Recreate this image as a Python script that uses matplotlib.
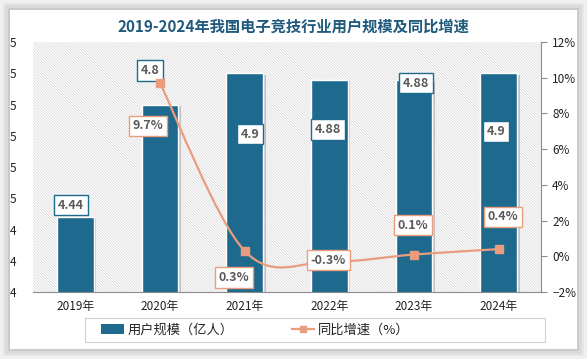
import numpy as np
import matplotlib
matplotlib.use('Agg')
import matplotlib.pyplot as plt
from matplotlib.patches import Rectangle, PathPatch
from matplotlib.path import Path
from matplotlib.ticker import FixedLocator, FuncFormatter, PercentFormatter
import matplotlib.patheffects as pe

plt.rcParams['font.family'] = ['Noto Sans CJK SC', 'DejaVu Sans']
plt.rcParams['hatch.color'] = '#d4d4d4'
plt.rcParams['hatch.linewidth'] = 0.5

# ---------- data ----------
years = ['2019年', '2020年', '2021年', '2022年', '2023年', '2024年']
users = [4.44, 4.8, 4.9, 4.88, 4.88, 4.9]          # 亿人
growth = [None, 9.7, 0.3, -0.3, 0.1, 0.4]          # %
growth_labels = ['9.7%', '0.3%', '-0.3%', '0.1%', '0.4%']

BAR = '#1d6a8e'
LINE = '#e99d7e'
TXT = '#595959'

# label placement (in axis units), hand-tuned
bar_lab_pos = [(-0.05, 4.478), (0.88, 4.909), (2.06, 4.705),
               (2.98, 4.72), (4.02, 4.868), (4.97, 4.714)]
line_lab_pos = [(0.86, 7.3), (1.87, -1.2), (2.99, -0.22),
                (3.99, 1.75), (5.05, 2.2)]

fig = plt.figure(figsize=(5.87, 3.59), dpi=100)
fig.patch.set_facecolor('#f0f0f0')

# white panel with soft shadow
for i, a in enumerate([0.04, 0.05, 0.07]):
    d = (3 - i) * 0.004
    fig.patches.append(Rectangle((10 / 587 - d, 10 / 359 - d * 1.6),
                                 567 / 587 + 2 * d, 339 / 359 + 2 * d * 1.6,
                                 transform=fig.transFigure, facecolor='#000000',
                                 alpha=a, edgecolor='none', zorder=-3))
fig.patches.append(Rectangle((10 / 587, 10 / 359), 567 / 587, 339 / 359,
                             transform=fig.transFigure, facecolor='white',
                             edgecolor='none', zorder=-2))

ax = fig.add_axes([33 / 587, 67 / 359, 508 / 587, 250 / 359])
ax.set_facecolor('white')
ax.patch.set_hatch('\\' * 12)
ax.patch.set_edgecolor('#d4d4d4')
ax.patch.set_linewidth(0)

x = np.arange(len(years))
bars = ax.bar(x, users, width=0.43, color=BAR, edgecolor='white', linewidth=1.0,
              zorder=2, label='用户规模（亿人）')
for b in bars:
    b.set_path_effects([pe.withSimplePatchShadow(offset=(2, -1), alpha=0.3,
                                                 shadow_rgbFace='#555555'),
                        pe.Normal()])

ax.set_xlim(-0.5, 5.5)
ax.set_ylim(4.2, 5.0)
ax.yaxis.set_major_locator(FixedLocator(np.arange(4.2, 5.01, 0.1)))
ax.yaxis.set_major_formatter(FuncFormatter(lambda v, p: f'{int(np.floor(v + 0.5 + 1e-9))}'))
ax.set_xticks(x)
ax.set_xticklabels(years)
ax.tick_params(axis='x', length=0, labelsize=8.5, pad=6, colors='#222222')
ax.tick_params(axis='y', length=0, labelsize=8.5, pad=12, colors='#222222')
for s in ['top', 'right', 'left']:
    ax.spines[s].set_visible(False)
ax.spines['bottom'].set_color('#8c8c8c')

for (px, py), v in zip(bar_lab_pos, users):
    ax.text(px, py, f'{v:g}', ha='center', va='center', fontsize=9,
            fontweight='bold', color=TXT, zorder=6,
            bbox=dict(boxstyle='square,pad=0.3', fc='white', ec=BAR, lw=1.0))

# ---------- growth line ----------
ax2 = ax.twinx()
ax2.set_ylim(-2, 12)
ax2.yaxis.set_major_locator(FixedLocator(np.arange(-2, 12.1, 2)))
ax2.yaxis.set_major_formatter(PercentFormatter(decimals=0))
ax2.tick_params(axis='y', length=4, direction='out', labelsize=8.5,
                colors='#8c8c8c', labelcolor='#222222', pad=4)
for s in ['top', 'left', 'bottom']:
    ax2.spines[s].set_visible(False)
ax2.spines['right'].set_color('#8c8c8c')

gx = np.array([i for i, g in enumerate(growth) if g is not None], dtype=float)
gy = np.array([g for g in growth if g is not None], dtype=float)

# smoothed curve (cubic Bezier through the points, like an Excel smooth line)
verts = [(gx[0], gy[0])]
codes = [Path.MOVETO]
n = len(gx)
for i in range(n - 1):
    p0 = (gx[max(i - 1, 0)], gy[max(i - 1, 0)])
    p1 = (gx[i], gy[i])
    p2 = (gx[i + 1], gy[i + 1])
    p3 = (gx[min(i + 2, n - 1)], gy[min(i + 2, n - 1)])
    c1 = (p1[0] + (p2[0] - p0[0]) / 6, p1[1] + (p2[1] - p0[1]) / 6)
    c2 = (p2[0] - (p3[0] - p1[0]) / 6, p2[1] - (p3[1] - p1[1]) / 6)
    verts += [c1, c2, p2]
    codes += [Path.CURVE4] * 3
ax2.add_patch(PathPatch(Path(verts, codes), fill=False, ec=LINE, lw=1.6, zorder=3))
ax2.plot(gx, gy, ls='none', marker='s', ms=6, color=LINE, zorder=4)

for (px, py), t in zip(line_lab_pos, growth_labels):
    ax2.text(px, py, t, ha='center', va='center', fontsize=9,
             fontweight='bold', color=TXT, zorder=6,
             bbox=dict(boxstyle='square,pad=0.3', fc='white', ec=LINE, lw=1.0))

# ---------- title & legend ----------
fig.text(0.5, 0.925, '2019-2024年我国电子竞技行业用户规模及同比增速',
         ha='center', va='center', fontsize=11, fontweight='bold', color='#1f5a7c')

fig.patches.append(Rectangle((85 / 587, 17 / 359), 460 / 587, 24 / 359,
                             transform=fig.transFigure, facecolor='white',
                             edgecolor='#d0d0d0', lw=0.8, zorder=1))
h_bar = Rectangle((0, 0), 1, 1, fc=BAR, ec='none')
h_line, = ax2.plot([], [], color=LINE, lw=1.6, marker='s', ms=5)
leg = fig.legend([h_bar, h_line], ['用户规模（亿人）', '同比增速（%）'],
                 loc='center left', bbox_to_anchor=(92 / 587, 29 / 359), ncol=2,
                 fontsize=9.5, frameon=False, columnspacing=4.4,
                 handlelength=1.7, handletextpad=0.3, borderpad=0.2)
for t in leg.get_texts():
    t.set_color('#222222')

fig.savefig('out.png', dpi=100, facecolor=fig.get_facecolor())
